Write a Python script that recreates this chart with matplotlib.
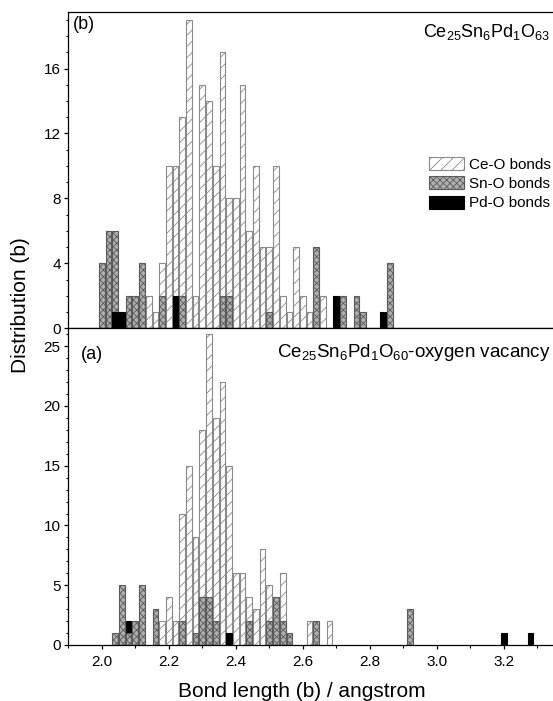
#!/usr/bin/env python3
import matplotlib
matplotlib.use("Agg")
import matplotlib.pyplot as plt
from matplotlib.patches import Patch
from matplotlib.ticker import MultipleLocator

plt.rcParams['font.family'] = ['Liberation Sans', 'DejaVu Sans']
plt.rcParams['mathtext.default'] = 'regular'
plt.rcParams['hatch.linewidth'] = 0.6

# (b) Ce25Sn6Pd1O63 - bin centres and counts
b_ce_x = [2.14, 2.16, 2.18, 2.20, 2.22, 2.24, 2.26, 2.28, 2.30, 2.32, 2.34, 2.36, 2.38,
          2.40, 2.42, 2.44, 2.46, 2.48, 2.50, 2.52, 2.54, 2.56, 2.58, 2.60, 2.62, 2.66]
b_ce_y = [2, 1, 4, 10, 10, 13, 19, 2, 15, 14, 10, 17, 8,
          8, 15, 6, 10, 5, 5, 10, 2, 1, 5, 2, 1, 2]
b_sn_x = [2.00, 2.02, 2.04, 2.08, 2.10, 2.12, 2.18, 2.24, 2.36, 2.38, 2.50, 2.64, 2.72, 2.76, 2.78, 2.86]
b_sn_y = [4, 6, 6, 2, 2, 4, 2, 2, 2, 2, 1, 5, 2, 2, 1, 4]
b_pd_x = [2.04, 2.06, 2.22, 2.70, 2.84]
b_pd_y = [1, 1, 2, 2, 1]

# (a) Ce25Sn6Pd1O60 with oxygen vacancy
a_ce_x = [2.18, 2.20, 2.22, 2.24, 2.26, 2.28, 2.30, 2.32, 2.34, 2.36, 2.38, 2.40, 2.42,
          2.44, 2.46, 2.48, 2.50, 2.52, 2.54, 2.62, 2.68]
a_ce_y = [2, 4, 2, 11, 15, 9, 18, 26, 19, 22, 15, 6, 6,
          4, 3, 8, 5, 2, 6, 2, 2]
a_sn_x = [2.04, 2.06, 2.08, 2.10, 2.12, 2.16, 2.24, 2.28, 2.30, 2.32, 2.34, 2.44, 2.50,
          2.52, 2.54, 2.56, 2.64, 2.92]
a_sn_y = [1, 5, 1, 2, 5, 3, 2, 1, 4, 4, 2, 2, 2, 4, 2, 1, 2, 3]
a_pd_x = [2.08, 2.38, 3.20, 3.28]
a_pd_y = [2, 1, 1, 1]

bw = 0.017
ce_style = dict(facecolor='white', edgecolor='#8a8a8a', hatch='///', linewidth=0.8)
sn_style = dict(facecolor='#b0b0b0', edgecolor='#5a5a5a', hatch='xxxxx', linewidth=0.8)
pd_style = dict(facecolor='black', edgecolor='black', linewidth=0.8)

fig = plt.figure(figsize=(5.53, 7.01), dpi=100)
ax_b = fig.add_axes([0.1235, 0.5317, 0.8765, 0.4516])
ax_a = fig.add_axes([0.1235, 0.0799, 0.8765, 0.4518])

# top panel
ax_b.bar(b_ce_x, b_ce_y, width=bw, **ce_style)
ax_b.bar(b_sn_x, b_sn_y, width=bw, **sn_style)
ax_b.bar(b_pd_x, b_pd_y, width=bw, **pd_style)

# bottom panel
ax_a.bar(a_ce_x, a_ce_y, width=bw, **ce_style)
ax_a.bar(a_pd_x, a_pd_y, width=bw, **pd_style)
ax_a.bar(a_sn_x, a_sn_y, width=bw, **sn_style)

for ax in (ax_b, ax_a):
    ax.set_xlim(1.9, 3.347)
    ax.spines['right'].set_visible(False)
    for s in ('left', 'bottom', 'top'):
        ax.spines[s].set_linewidth(0.9)
    ax.xaxis.set_major_locator(MultipleLocator(0.2))
    ax.tick_params(which='major', direction='out', length=3, width=0.9, labelsize=11, pad=4.5)
    ax.tick_params(which='minor', direction='out', length=1.8, width=0.8)
    ax.tick_params(axis='y', which='major', pad=2.5)

ax_b.set_ylim(0, 19.5)
ax_b.yaxis.set_major_locator(MultipleLocator(4))
ax_b.yaxis.set_minor_locator(MultipleLocator(1))
ax_b.xaxis.set_minor_locator(MultipleLocator(0.05))
ax_b.tick_params(axis='x', which='both', labelbottom=False)

ax_a.set_ylim(0, 26.5)
ax_a.yaxis.set_major_locator(MultipleLocator(5))
ax_a.yaxis.set_minor_locator(MultipleLocator(1))
ax_a.xaxis.set_minor_locator(MultipleLocator(0.1))
ax_a.xaxis.set_major_formatter(matplotlib.ticker.FormatStrFormatter('%.1f'))

# panel labels and compositions
ax_b.text(0.010, 0.944, '(b)', transform=ax_b.transAxes, fontsize=13, va='baseline')
ax_a.text(0.026, 0.903, '(a)', transform=ax_a.transAxes, fontsize=13, va='baseline')
ax_b.text(0.994, 0.921, r'Ce$_{25}$Sn$_{6}$Pd$_{1}$O$_{63}$', transform=ax_b.transAxes,
          fontsize=13, ha='right', va='baseline')
ax_a.text(0.994, 0.910, r'Ce$_{25}$Sn$_{6}$Pd$_{1}$O$_{60}$-oxygen vacancy', transform=ax_a.transAxes,
          fontsize=13.5, ha='right', va='baseline')

handles = [Patch(label='Ce-O bonds', **ce_style),
           Patch(label='Sn-O bonds', **sn_style),
           Patch(label='Pd-O bonds', **pd_style)]
ax_b.legend(handles=handles, loc='upper left', bbox_to_anchor=(0.729, 0.565), frameon=False,
            fontsize=11, borderpad=0, handlelength=2.3, handleheight=0.92,
            handletextpad=0.3, labelspacing=0.3)

fig.text(21 / 553, 1 - 305 / 701, 'Distribution (b)', rotation=90, fontsize=15,
         ha='center', va='center')
fig.text(302 / 553, 1 - 697 / 701, 'Bond length (b) / angstrom', fontsize=15,
         ha='center', va='baseline')

fig.savefig('out.png', dpi=100)
